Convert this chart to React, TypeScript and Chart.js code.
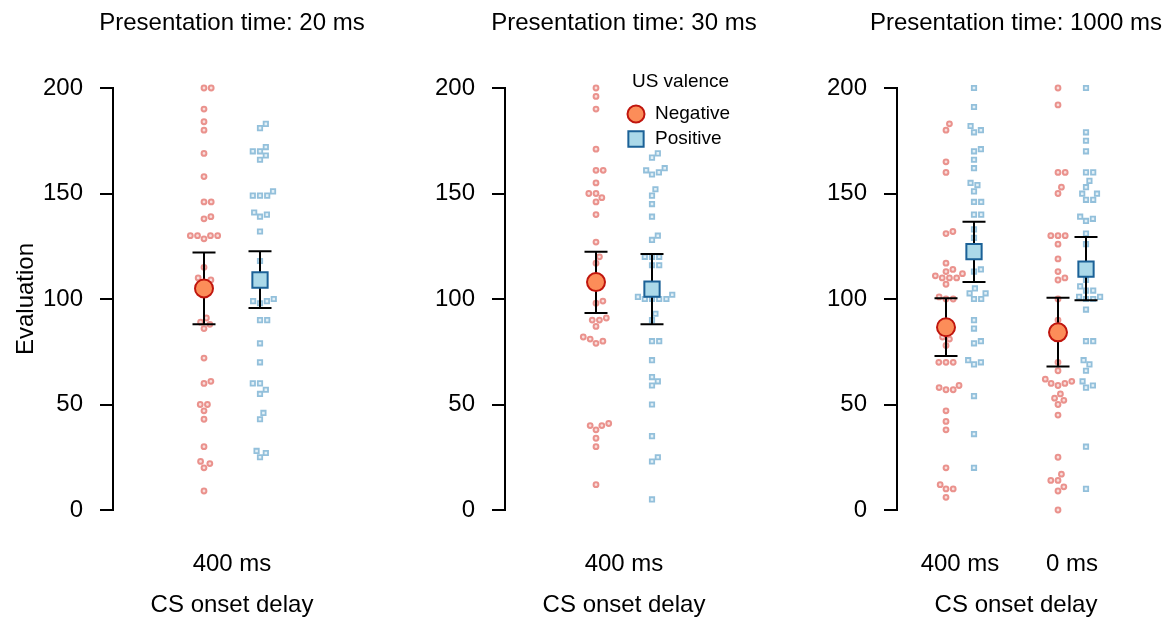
import React, { useEffect, useRef } from 'react';
import { Chart, registerables } from 'chart.js';

Chart.register(...registerables);

const FONT = "'Liberation Sans', Arial, Helvetica, sans-serif";

// Evaluation ratings, one array per cell (presentation time × CS onset delay × US valence)
const negative20 = [200, 200, 190, 184, 180, 169, 158, 146, 146, 139, 138, 130, 130, 128.5, 130, 130, 115, 110, 109, 108, 91, 89, 88, 86, 72, 61, 60, 50, 50, 47, 43, 30, 23, 22, 20, 9];
const positive20 = [183, 181, 172, 170, 170, 168, 166, 151, 149, 149, 149, 141, 140, 139, 132, 118, 111, 100, 99, 99, 98, 90, 90, 79, 70, 60, 60, 57, 55, 46, 43, 28, 27, 25];
const negative30 = [200, 196, 190, 171, 161, 161, 155, 150, 150, 148, 146, 140, 127, 120, 117, 111, 99, 98, 91, 90, 90, 87, 82, 81, 80, 79, 41, 40, 40, 38, 34, 30, 12];
const positive30 = [169, 167, 162, 161, 160, 159, 152, 149, 145, 139, 130, 128, 120, 120, 120, 116, 116, 102, 101, 100, 100, 100, 100, 93, 90, 80, 80, 71, 63, 61, 59, 50, 35, 25, 23, 5];
const negative1000Delay400 = [183, 180, 165, 160, 132, 131, 117, 114, 113, 112, 111, 110, 110, 110, 107, 101, 100, 100, 82, 81, 78, 70, 70, 70, 59, 58, 57, 57, 47, 42, 38, 20, 12, 10, 10, 6];
const positive1000Delay400 = [200, 191, 182, 180, 179, 171, 170, 166, 162, 155, 154, 151, 146, 146, 140, 140, 133, 129, 114, 113, 105, 102.7, 102.7, 100, 100, 90, 86, 80, 79, 71, 70, 69, 54, 36, 20];
const negative1000Delay0 = [200, 192, 160, 160, 153, 150, 130, 130, 130, 126, 119, 113, 110, 109, 100, 90, 70, 66, 62, 61, 60, 60, 59, 55, 53, 52, 50, 45, 25, 17, 14, 14, 11, 9, 0];
const positive1000Delay0 = [200, 179, 175, 170, 160, 160, 156, 153, 149.9, 149.9, 147, 147, 139, 138, 137, 131, 126, 109, 106, 104, 104, 101, 101, 100, 100, 95, 80, 80, 71, 69, 66, 61, 59, 58, 30, 10];

// Cell means and interval bounds: 20 ms/400 ms, 30 ms/400 ms, 1000 ms/400 ms, 1000 ms/0 ms
const negativeMeans = [105, 108, 86.6, 84.2];
const negativeLower = [88, 93.4, 73, 68];
const negativeUpper = [122, 122.4, 100.3, 100.6];
const positiveMeans = [109, 104.7, 122.4, 114.2];
const positiveLower = [95.7, 88, 108, 99.4];
const positiveUpper = [122.6, 121.3, 136.6, 129.4];

const panelTitles = ['Presentation time: 20 ms', 'Presentation time: 30 ms', 'Presentation time: 1000 ms'];
const delayLabels = [['400 ms'], ['400 ms'], ['400 ms', '0 ms']];
const valenceLabels = ['Negative', 'Positive'];
const yTicks = [0, 50, 100, 150, 200];

// Layout
const HEIGHT = 619;
const AXIS_WIDTH = 113;
const PLOT_TOP = 88;
const PLOT_WIDTH = 238;
const PLOT_HEIGHT = 422;
const VALUE_MAX = 200;
const SWARM_GAP = 7.2; // centre distance between neighbouring points, px

const NEG_POINT = { border: '#EA928D', fill: '#F9DEDC' };
const POS_POINT = { border: '#93C0DB', fill: '#E3F0F7' };
const NEG_MEAN = { fill: '#FC8D59', border: '#C0160E', radius: 9 };
const POS_MEAN = { fill: '#ABD9E9', border: '#1B6197', radius: 10.8 };

type Cell = { negative: number[]; positive: number[]; stat: number };
type PanelDef = {
  title: string;
  delays: string[];
  positions: number[];
  xMin: number;
  xMax: number;
  shift: number;
  width: number;
  cells: Cell[];
};

const panels: PanelDef[] = [
  {
    title: panelTitles[0], delays: delayLabels[0], positions: [1], xMin: 0.5, xMax: 1.5, shift: 28 / 238, width: 392,
    cells: [{ negative: negative20, positive: positive20, stat: 0 }],
  },
  {
    title: panelTitles[1], delays: delayLabels[1], positions: [1], xMin: 0.5, xMax: 1.5, shift: 28 / 238, width: 392,
    cells: [{ negative: negative30, positive: positive30, stat: 1 }],
  },
  {
    title: panelTitles[2], delays: delayLabels[2], positions: [1, 2], xMin: 0.4375, xMax: 2.5625, shift: 0.125, width: 391,
    cells: [
      { negative: negative1000Delay400, positive: positive1000Delay400, stat: 2 },
      { negative: negative1000Delay0, positive: positive1000Delay0, stat: 3 },
    ],
  },
];

// Beeswarm layout: points taken in ascending order, each placed at the
// offset closest to the centre line that does not overlap earlier points.
function swarmOffsets(values: number[], pxPerValue: number): number[] {
  const order = values.map((_, i) => i).sort((a, b) => values[a] - values[b] || a - b);
  const placed: { v: number; o: number }[] = [];
  const offsets = new Array(values.length).fill(0);
  for (const i of order) {
    const v = (values[i] * pxPerValue) / SWARM_GAP;
    const near = placed.filter((p) => Math.abs(p.v - v) < 1);
    let best = 0;
    if (near.length) {
      const candidates = [0];
      near.forEach((p) => candidates.push(p.o + Math.sqrt(1 - (v - p.v) ** 2)));
      near.forEach((p) => candidates.push(p.o - Math.sqrt(1 - (v - p.v) ** 2)));
      let bestAbs = Infinity;
      for (const c of candidates) {
        const clash = near.some((p) => (v - p.v) ** 2 + (c - p.o) ** 2 < 0.999);
        if (!clash && Math.abs(c) < bestAbs) {
          bestAbs = Math.abs(c);
          best = c;
        }
      }
    }
    placed.push({ v, o: best });
    offsets[i] = best * SWARM_GAP;
  }
  return offsets;
}

const font = (size: number, lineHeight = 1.2) => ({ family: FONT, size, weight: 'normal' as const, lineHeight });

function drawMarker(ctx: CanvasRenderingContext2D, kind: 'circle' | 'rect', x: number, y: number, r: number, fill: string, stroke: string) {
  ctx.save();
  ctx.beginPath();
  if (kind === 'circle') {
    ctx.arc(x, y, r, 0, Math.PI * 2);
  } else {
    const h = r * Math.SQRT1_2;
    ctx.rect(x - h, y - h, 2 * h, 2 * h);
  }
  ctx.fillStyle = fill;
  ctx.fill();
  ctx.lineWidth = 2;
  ctx.strokeStyle = stroke;
  ctx.stroke();
  ctx.restore();
}

function buildConfig(panel: PanelDef, index: number): any {
  const pxPerX = PLOT_WIDTH / (panel.xMax - panel.xMin);
  const pxPerValue = PLOT_HEIGHT / VALUE_MAX;
  const negPts: { x: number; y: number }[] = [];
  const posPts: { x: number; y: number }[] = [];
  const negMean: { x: number; y: number }[] = [];
  const posMean: { x: number; y: number }[] = [];
  const bars: { x: number; lo: number; hi: number }[] = [];

  panel.cells.forEach((cell, k) => {
    const nx = panel.positions[k] - panel.shift;
    const px = panel.positions[k] + panel.shift;
    const no = swarmOffsets(cell.negative, pxPerValue);
    const po = swarmOffsets(cell.positive, pxPerValue);
    cell.negative.forEach((v, j) => negPts.push({ x: nx + no[j] / pxPerX, y: v }));
    cell.positive.forEach((v, j) => posPts.push({ x: px + po[j] / pxPerX, y: v }));
    negMean.push({ x: nx, y: negativeMeans[cell.stat] });
    posMean.push({ x: px, y: positiveMeans[cell.stat] });
    bars.push({ x: nx, lo: negativeLower[cell.stat], hi: negativeUpper[cell.stat] });
    bars.push({ x: px, lo: positiveLower[cell.stat], hi: positiveUpper[cell.stat] });
  });

  // Mean ± interval whiskers, drawn above the raw points and below the means
  const intervals = {
    id: 'intervals',
    beforeDatasetDraw(chart: any, args: any) {
      if (args.index !== 1) return;
      const { ctx, scales } = chart;
      ctx.save();
      ctx.strokeStyle = '#000';
      ctx.lineWidth = 2;
      bars.forEach((b) => {
        const x = scales.x.getPixelForValue(b.x);
        const y1 = scales.y.getPixelForValue(b.lo);
        const y2 = scales.y.getPixelForValue(b.hi);
        ctx.beginPath();
        ctx.moveTo(x, y1);
        ctx.lineTo(x, y2);
        ctx.moveTo(x - 11.5, y1);
        ctx.lineTo(x + 11.5, y1);
        ctx.moveTo(x - 11.5, y2);
        ctx.lineTo(x + 11.5, y2);
        ctx.stroke();
      });
      ctx.restore();
    },
  };

  // Panel heading centred over the plotting region
  const panelTitle = {
    id: 'panelTitle',
    afterDraw(chart: any) {
      const { ctx, chartArea } = chart;
      ctx.save();
      ctx.fillStyle = '#000';
      ctx.font = `24px ${FONT}`;
      ctx.textAlign = 'center';
      ctx.textBaseline = 'middle';
      ctx.fillText(panel.title, (chartArea.left + chartArea.right) / 2, 23.6);
      ctx.restore();
    },
  };

  const valenceLegend = {
    id: 'valenceLegend',
    afterDraw(chart: any) {
      if (index !== 1) return;
      const { ctx, chartArea } = chart;
      const mx = chartArea.left + 131;
      ctx.save();
      ctx.fillStyle = '#000';
      ctx.font = `19px ${FONT}`;
      ctx.textBaseline = 'middle';
      ctx.textAlign = 'center';
      ctx.fillText('US valence', chartArea.left + 175.5, chartArea.top - 6.5);
      ctx.restore();
      drawMarker(ctx, 'circle', mx, chartArea.top + 26, 8.5, NEG_MEAN.fill, NEG_MEAN.border);
      drawMarker(ctx, 'rect', mx, chartArea.top + 51, 10.8, POS_MEAN.fill, POS_MEAN.border);
      ctx.save();
      ctx.fillStyle = '#000';
      ctx.font = `19px ${FONT}`;
      ctx.textBaseline = 'middle';
      ctx.textAlign = 'left';
      ctx.fillText(valenceLabels[0], mx + 19, chartArea.top + 26);
      ctx.fillText(valenceLabels[1], mx + 19, chartArea.top + 51);
      ctx.restore();
    },
  };

  return {
    type: 'scatter',
    data: {
      datasets: [
        {
          label: valenceLabels[0] + ' mean', data: negMean, order: 0, clip: false,
          pointStyle: 'circle', pointRadius: NEG_MEAN.radius, pointBackgroundColor: NEG_MEAN.fill,
          pointBorderColor: NEG_MEAN.border, pointBorderWidth: 2,
        },
        {
          label: valenceLabels[1] + ' mean', data: posMean, order: 0, clip: false,
          pointStyle: 'rect', pointRadius: POS_MEAN.radius, pointBackgroundColor: POS_MEAN.fill,
          pointBorderColor: POS_MEAN.border, pointBorderWidth: 2,
        },
        {
          label: valenceLabels[0], data: negPts, order: 1, clip: false,
          pointStyle: 'circle', pointRadius: 2.4, pointBackgroundColor: NEG_POINT.fill,
          pointBorderColor: NEG_POINT.border, pointBorderWidth: 2,
        },
        {
          label: valenceLabels[1], data: posPts, order: 1, clip: false,
          pointStyle: 'rect', pointRadius: 3.1, pointBackgroundColor: POS_POINT.fill,
          pointBorderColor: POS_POINT.border, pointBorderWidth: 1.8,
        },
      ],
    },
    options: {
      responsive: false,
      animation: false,
      devicePixelRatio: 1,
      events: [],
      layout: { padding: { left: 0, right: panel.width - AXIS_WIDTH - PLOT_WIDTH, top: PLOT_TOP, bottom: 0 } },
      plugins: {
        legend: { display: false },
        tooltip: { enabled: false },
        title: { display: false },
      },
      scales: {
        x: {
          type: 'linear',
          min: panel.xMin,
          max: panel.xMax,
          afterBuildTicks: (s: any) => {
            s.ticks = panel.positions.map((v) => ({ value: v }));
          },
          afterFit: (s: any) => {
            s.height = HEIGHT - PLOT_TOP - PLOT_HEIGHT;
          },
          grid: { display: false, drawTicks: false },
          border: { display: false },
          ticks: {
            callback: (_v: any, i: number) => panel.delays[i],
            autoSkip: false,
            maxRotation: 0,
            minRotation: 0,
            padding: 40,
            color: '#000',
            font: font(24),
          },
          title: {
            display: true,
            text: 'CS onset delay',
            color: '#000',
            font: font(24, 1.1),
            padding: { top: 0, bottom: 0 },
          },
        },
        y: {
          type: 'linear',
          min: 0,
          max: VALUE_MAX,
          afterBuildTicks: (s: any) => {
            s.ticks = yTicks.map((v) => ({ value: v }));
          },
          afterFit: (s: any) => {
            s.width = AXIS_WIDTH;
          },
          grid: { drawOnChartArea: false, drawTicks: true, tickLength: 13, color: '#000', lineWidth: 2 },
          border: { display: true, color: '#000', width: 2 },
          ticks: { padding: 17, color: '#000', font: font(24) },
          title: {
            display: index === 0,
            text: 'Evaluation',
            color: '#000',
            font: font(24),
            padding: { top: 12, bottom: 0 },
          },
        },
      },
    },
    plugins: [intervals, panelTitle, valenceLegend],
  };
}

function Panel({ panel, index }: { panel: PanelDef; index: number }) {
  const ref = useRef<HTMLCanvasElement>(null);
  useEffect(() => {
    if (!ref.current) return;
    const chart = new Chart(ref.current, buildConfig(panel, index));
    return () => chart.destroy();
  }, [panel, index]);
  return <canvas ref={ref} width={panel.width} height={HEIGHT} style={{ display: 'block' }} />;
}

export default function App() {
  return (
    <div style={{ position: 'absolute', left: 0, top: 0, width: 1175, height: HEIGHT, display: 'flex', background: '#fff' }}>
      {panels.map((p, i) => (
        <Panel key={i} panel={p} index={i} />
      ))}
    </div>
  );
}
